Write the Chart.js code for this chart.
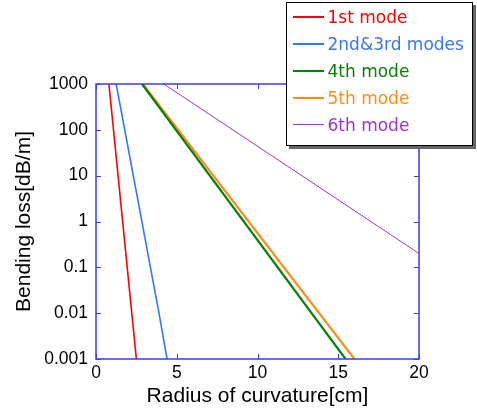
<!DOCTYPE html>
<html lang="en">
<head>
    <meta charset="UTF-8">
    <title>Bending loss vs radius of curvature</title>
    <style>
        * {
            margin: 0;
            padding: 0;
            box-sizing: border-box;
        }

        body {
            width: 477px;
            height: 409px;
            background: #fff;
            overflow: hidden;
        }

        .wrap {
            position: relative;
            width: 477px;
            height: 409px;
        }

        /* legend box sits over the top right of the plot */
        .legend {
            position: absolute;
            left: 286px;
            top: 2px;
            width: 187px;
            height: 144px;
            background: #fff;
            border: 1.5px solid #000;
            box-shadow: 3px 3px 0 #666;
            font-family: "DejaVu Sans", Verdana, sans-serif;
            font-size: 17px;
        }

        .legend .row {
            height: 27px;
            display: flex;
            align-items: center;
        }

        .legend .swatch {
            width: 31px;
            margin-left: 5.5px;
            margin-right: 4px;
        }
    </style>
    <script src="https://cdn.jsdelivr.net/npm/chart.js"></script>
</head>
<body>
<div class="wrap">
    <canvas id="lossChart" width="477" height="409"></canvas>
    <div class="legend" id="legend"></div>
</div>

<script>
    // data (x = radius in cm, y = loss in dB/m)
    const seriesNames = ['1st mode', '2nd&3rd modes', '4th mode', '5th mode', '6th mode'];
    const radius1 = [0.8, 2.5];
    const loss1 = [1000, 0.001];
    const radius23 = [1.25, 3.9, 4.4];
    const loss23 = [1000, 0.01, 0.001];
    const radius4 = [2.85, 15.45];
    const loss4 = [1000, 0.001];
    const radius5 = [2.9, 16.0];
    const loss5 = [1000, 0.001];
    const radius6 = [4.2, 20];
    const loss6 = [1000, 0.2];
    const xTicks = [0, 5, 10, 15, 20];
    const yTicks = [0.001, 0.01, 0.1, 1, 10, 100, 1000];

    const colors = ['#ff0000', '#3377ff', '#0a800a', '#ff8c1a', '#9933dd'];
    const widths = [1.6, 1.6, 2.2, 2.2, 1];

    const radii = [radius1, radius23, radius4, radius5, radius6];
    const losses = [loss1, loss23, loss4, loss5, loss6];

    const axisBlue = '#3a3aee';

    function toPoints(xs, ys) {
        return xs.map((x, i) => ({ x: x, y: ys[i] }));
    }

    // frame plus inward tick marks on all four sides
    const framePlugin = {
        id: 'frame',
        afterDraw(chart) {
            const c = chart.ctx;
            const a = chart.chartArea;
            const xs = chart.scales.x;
            const ys = chart.scales.y;
            c.save();
            c.strokeStyle = axisBlue;
            c.lineWidth = 1.5;
            c.strokeRect(a.left, a.top, a.right - a.left, a.bottom - a.top);
            c.lineWidth = 1;
            c.beginPath();
            xTicks.forEach(v => {
                const px = Math.round(xs.getPixelForValue(v)) + 0.5;
                c.moveTo(px, a.bottom); c.lineTo(px, a.bottom - 5);
                c.moveTo(px, a.top); c.lineTo(px, a.top + 5);
            });
            yTicks.forEach(v => {
                const py = Math.round(ys.getPixelForValue(v)) + 0.5;
                c.moveTo(a.left, py); c.lineTo(a.left + 5, py);
                c.moveTo(a.right, py); c.lineTo(a.right - 5, py);
            });
            c.stroke();
            c.restore();
        }
    };

    const ctx = document.getElementById('lossChart').getContext('2d');
    const lossChart = new Chart(ctx, {
        type: 'line',
        data: {
            datasets: seriesNames.map((name, i) => ({
                label: name,
                data: toPoints(radii[i], losses[i]),
                borderColor: colors[i],
                borderWidth: widths[i],
                pointRadius: 0,
                tension: 0,
                fill: false
            }))
        },
        options: {
            responsive: false,
            animation: false,
            layout: {
                padding: { left: 0, top: 84, right: 58, bottom: 0 }
            },
            plugins: {
                legend: { display: false },
                tooltip: { enabled: false }
            },
            scales: {
                x: {
                    type: 'linear',
                    min: 0,
                    max: 20,
                    afterBuildTicks: s => { s.ticks = xTicks.map(v => ({ value: v })); },
                    afterFit: s => { s.height = 50; },
                    grid: { display: false, drawTicks: false },
                    border: { display: false },
                    ticks: {
                        color: '#000',
                        padding: 4,
                        maxRotation: 0,
                        font: { family: 'Liberation Sans, Arial', size: 17.5 }
                    },
                    title: {
                        display: true,
                        text: 'Radius of curvature[cm]',
                        color: '#000',
                        padding: { top: 0, bottom: 0 },
                        font: { family: 'Liberation Sans, Arial', size: 21 }
                    }
                },
                y: {
                    type: 'logarithmic',
                    min: 0.001,
                    max: 1000,
                    afterBuildTicks: s => { s.ticks = yTicks.map(v => ({ value: v })); },
                    afterFit: s => { s.width = 96; },
                    grid: { display: false, drawTicks: false },
                    border: { display: false },
                    ticks: {
                        color: '#000',
                        padding: 8,
                        font: { family: 'Liberation Sans, Arial', size: 17.5 },
                        callback: v => String(v)
                    },
                    title: {
                        display: true,
                        text: 'Bending loss[dB/m]',
                        color: '#000',
                        padding: { top: 12, bottom: 0 },
                        font: { family: 'Liberation Sans, Arial', size: 21 }
                    }
                }
            }
        },
        plugins: [framePlugin]
    });

    // html legend, coloured text like the original
    const legendBox = document.getElementById('legend');
    seriesNames.forEach((name, i) => {
        const row = document.createElement('div');
        row.className = 'row';
        row.innerHTML = '<span class="swatch" style="border-top:' + (widths[i] + 0.6) + 'px solid ' + colors[i] + '"></span>' +
            '<span style="color:' + colors[i] + '">' + name + '</span>';
        legendBox.appendChild(row);
    });
</script>
</body>
</html>
